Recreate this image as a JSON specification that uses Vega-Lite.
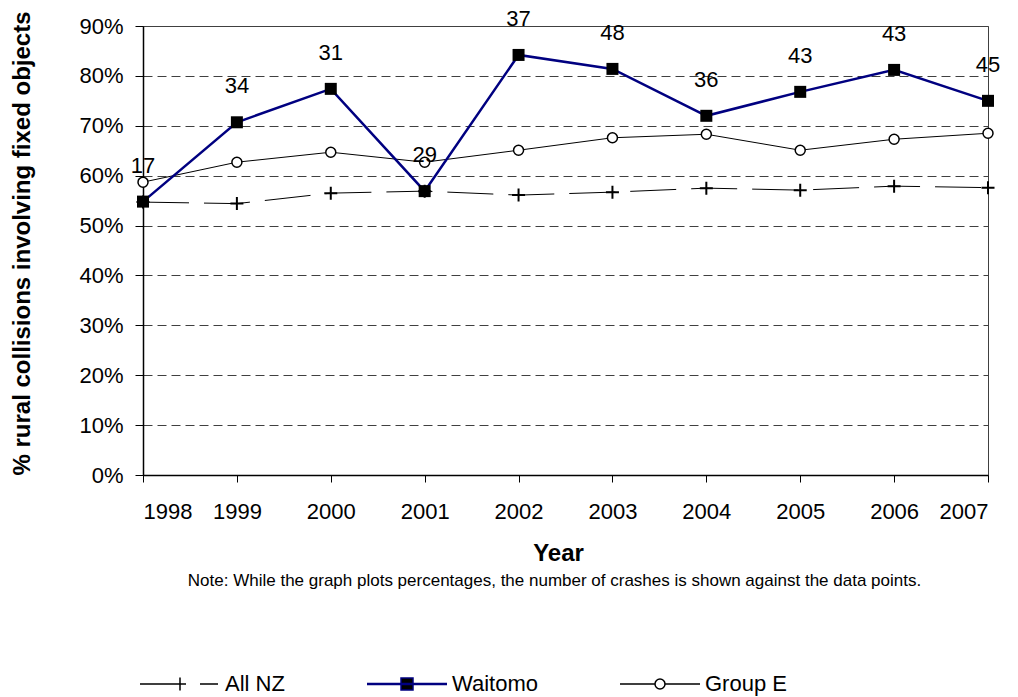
{
  "$schema": "https://vega.github.io/schema/vega-lite/v6.json",
  "width": 845,
  "height": 449,
  "autosize": "none",
  "padding": {"left": 143, "top": 26, "right": 30, "bottom": 222},
  "background": "white",
  "title": {
    "text": "Note: While the graph plots percentages, the number of crashes is shown against the  data points.",
    "orient": "bottom",
    "anchor": "middle",
    "font": "Liberation Sans",
    "fontSize": 17,
    "fontWeight": "normal",
    "color": "black",
    "offset": -122,
    "dx": -11
  },
  "data": {
    "values": [
      {"year": 1998, "series": "All NZ", "value": 0.547},
      {"year": 1999, "series": "All NZ", "value": 0.544},
      {"year": 2000, "series": "All NZ", "value": 0.565},
      {"year": 2001, "series": "All NZ", "value": 0.569},
      {"year": 2002, "series": "All NZ", "value": 0.561},
      {"year": 2003, "series": "All NZ", "value": 0.567},
      {"year": 2004, "series": "All NZ", "value": 0.575},
      {"year": 2005, "series": "All NZ", "value": 0.571},
      {"year": 2006, "series": "All NZ", "value": 0.579},
      {"year": 2007, "series": "All NZ", "value": 0.576},
      {"year": 1998, "series": "Waitomo", "value": 0.548, "n": 17},
      {"year": 1999, "series": "Waitomo", "value": 0.707, "n": 34},
      {"year": 2000, "series": "Waitomo", "value": 0.774, "n": 31},
      {"year": 2001, "series": "Waitomo", "value": 0.569, "n": 29},
      {"year": 2002, "series": "Waitomo", "value": 0.842, "n": 37},
      {"year": 2003, "series": "Waitomo", "value": 0.814, "n": 48},
      {"year": 2004, "series": "Waitomo", "value": 0.720, "n": 36},
      {"year": 2005, "series": "Waitomo", "value": 0.768, "n": 43},
      {"year": 2006, "series": "Waitomo", "value": 0.812, "n": 43},
      {"year": 2007, "series": "Waitomo", "value": 0.750, "n": 45},
      {"year": 1998, "series": "Group E", "value": 0.587},
      {"year": 1999, "series": "Group E", "value": 0.627},
      {"year": 2000, "series": "Group E", "value": 0.647},
      {"year": 2001, "series": "Group E", "value": 0.627},
      {"year": 2002, "series": "Group E", "value": 0.651},
      {"year": 2003, "series": "Group E", "value": 0.676},
      {"year": 2004, "series": "Group E", "value": 0.683},
      {"year": 2005, "series": "Group E", "value": 0.651},
      {"year": 2006, "series": "Group E", "value": 0.673},
      {"year": 2007, "series": "Group E", "value": 0.685}
    ]
  },
  "encoding": {
    "x": {
      "field": "year",
      "type": "quantitative",
      "scale": {"domain": [1998, 2007], "nice": false, "zero": false},
      "axis": {
        "values": [1998, 1999, 2000, 2001, 2002, 2003, 2004, 2005, 2006, 2007],
        "format": "d",
        "grid": false,
        "domainColor": "black",
        "domainWidth": 1.5,
        "tickColor": "black",
        "tickSize": 7,
        "labelPadding": 19,
        "labelFont": "Liberation Sans",
        "labelFontSize": 22,
        "labelColor": "black",
        "title": "Year",
        "titleFont": "Liberation Sans",
        "titleFontSize": 24,
        "titleFontWeight": "bold",
        "titleColor": "black",
        "titleX": 415,
        "titleY": 78,
        "titleBaseline": "middle",
        "titleAlign": "center"
      }
    },
    "y": {
      "field": "value",
      "type": "quantitative",
      "scale": {"domain": [0, 0.9], "nice": false},
      "axis": {
        "values": [0, 0.1, 0.2, 0.3, 0.4, 0.5, 0.6, 0.7, 0.8, 0.9],
        "format": ".0%",
        "grid": true,
        "gridDash": [9, 5],
        "gridColor": "#404040",
        "gridWidth": 1,
        "domainColor": "black",
        "domainWidth": 1.5,
        "tickColor": "black",
        "tickSize": 8,
        "labelPadding": 12,
        "labelFont": "Liberation Sans",
        "labelFontSize": 22,
        "labelColor": "black",
        "title": "% rural collisions involving fixed objects",
        "titleFont": "Liberation Sans",
        "titleFontSize": 24,
        "titleFontWeight": "bold",
        "titleColor": "black",
        "titleAngle": 270,
        "titleX": -121,
        "titleY": 217,
        "titleBaseline": "middle",
        "titleAlign": "center"
      }
    }
  },
  "layer": [
    {
      "transform": [{"filter": "datum.series === 'All NZ'"}],
      "mark": {"type": "line", "color": "black", "strokeWidth": 1, "strokeDash": [46, 15]}
    },
    {
      "transform": [{"filter": "datum.series === 'Group E'"}],
      "mark": {"type": "line", "color": "black", "strokeWidth": 1}
    },
    {
      "transform": [{"filter": "datum.series === 'Waitomo'"}],
      "mark": {"type": "line", "color": "#000080", "strokeWidth": 2.5}
    },
    {
      "transform": [{"filter": "datum.series === 'All NZ'"}],
      "mark": {"type": "point", "shape": "M-1,0H1M0,-1V1", "size": 169, "filled": false, "stroke": "black", "strokeWidth": 2, "opacity": 1}
    },
    {
      "transform": [{"filter": "datum.series === 'Group E'"}],
      "mark": {"type": "point", "shape": "circle", "size": 100, "filled": true, "fill": "white", "stroke": "black", "strokeWidth": 1.5, "opacity": 1}
    },
    {
      "transform": [{"filter": "datum.series === 'Waitomo'"}],
      "mark": {"type": "point", "shape": "square", "size": 144, "filled": true, "fill": "black", "strokeWidth": 0, "opacity": 1}
    },
    {
      "transform": [{"filter": "datum.series === 'Waitomo'"}],
      "mark": {"type": "text", "dy": -36, "baseline": "middle", "align": "center", "font": "Liberation Sans", "fontSize": 22, "color": "black"},
      "encoding": {"text": {"field": "n", "type": "quantitative"}}
    },
    {
      "transform": [{"filter": "datum.series === 'none'"}],
      "mark": {"type": "point", "strokeWidth": 1.5, "opacity": 1},
      "encoding": {
        "stroke": {
          "field": "series",
          "type": "nominal",
          "scale": {"domain": ["All NZ", "Waitomo", "Group E"], "range": ["black", "#000080", "black"]},
          "legend": {
            "orient": "none",
            "legendX": -4,
            "legendY": 617,
            "direction": "horizontal",
            "columns": 3,
            "title": null,
            "padding": 0,
            "symbolSize": 6400,
            "symbolStrokeWidth": 1.5,
            "symbolOpacity": 1,
            "labelFont": "Liberation Sans",
            "labelFontSize": 22,
            "labelColor": "black",
            "labelOffset": 4,
            "columnPadding": 79
          }
        },
        "fill": {
          "field": "series",
          "type": "nominal",
          "scale": {"domain": ["All NZ", "Waitomo", "Group E"], "range": ["transparent", "black", "white"]}
        },
        "shape": {
          "field": "series",
          "type": "nominal",
          "scale": {
            "domain": ["All NZ", "Waitomo", "Group E"],
            "range": [
              "M-1,0H0.15M0,-0.16V0.16M0.5,0H0.95",
              "M-1,-0.012H1M-1,0.012H1M-0.15,-0.15H0.15V0.15H-0.15Z",
              "M-1,0H-0.125M0.125,0H1M0.125,0A0.125,0.125,0,1,1,-0.125,0A0.125,0.125,0,1,1,0.125,0Z"
            ]
          }
        }
      }
    }
  ],
  "config": {
    "view": {"stroke": "#404040", "strokeWidth": 1},
    "font": "Liberation Sans"
  }
}
